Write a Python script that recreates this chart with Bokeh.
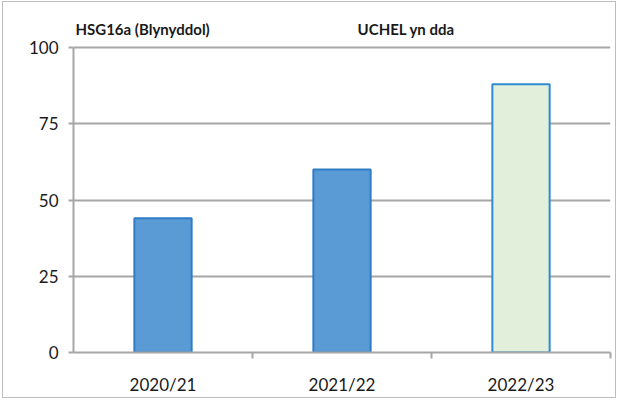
from bokeh.plotting import figure
from bokeh.models import Range1d, FixedTicker, Label, ColumnDataSource
from bokeh.embed import file_html
from bokeh.resources import INLINE

categories = ["2020/21", "2021/22", "2022/23"]
values = [44, 60, 88]
fill_colors = ["#5B9BD5", "#5B9BD5", "#E2EFDA"]
line_colors = ["#2E7DC6", "#2E7DC6", "#2E8BD0"]
y_ticks = [0, 25, 50, 75, 100]
title_left = "HSG16a (Blynyddol)"
title_right = "UCHEL yn dda"

FONT = "Lato"
n = len(categories)
xs = [i + 0.5 for i in range(n)]

p = figure(width=614, height=397, output_backend="svg", toolbar_location=None,
           x_range=Range1d(0, n), y_range=Range1d(0, 111.5),
           min_border_left=70, min_border_right=7, min_border_top=10, min_border_bottom=47)
p.styles = {"border": "1px solid #BDBDBD", "margin-left": "2px", "margin-top": "1px"}
p.outline_line_color = None
p.background_fill_color = "white"
p.border_fill_color = "white"

src = ColumnDataSource(dict(x=xs, top=values, fill=fill_colors, line=line_colors))
p.vbar(x="x", top="top", bottom=0, width=0.32, source=src,
       fill_color="fill", line_color="line", line_width=2)

# x axis
p.xaxis.ticker = FixedTicker(ticks=xs, minor_ticks=list(range(1, n + 1)))
p.xaxis.major_label_overrides = {x: c for x, c in zip(xs, categories)}
p.xaxis.major_tick_out = 0
p.xaxis.major_tick_in = 0
p.xaxis.minor_tick_out = 6
p.xaxis.minor_tick_in = 0
p.xaxis.minor_tick_line_color = "#A6A6A6"
p.xaxis.minor_tick_line_width = 2
p.xaxis.axis_line_color = "#A6A6A6"
p.xaxis.axis_line_width = 2
p.xaxis.major_label_standoff = 15
p.xaxis.major_label_text_font = FONT
p.xaxis.major_label_text_font_size = "17px"
p.xaxis.major_label_text_color = "#1a1a1a"

# y axis
p.yaxis.ticker = FixedTicker(ticks=y_ticks)
p.yaxis.bounds = (y_ticks[0], y_ticks[-1])
p.yaxis.major_tick_out = 5
p.yaxis.major_tick_in = 0
p.yaxis.minor_tick_line_color = None
p.yaxis.major_tick_line_color = "#A6A6A6"
p.yaxis.major_tick_line_width = 2
p.yaxis.axis_line_color = "#A6A6A6"
p.yaxis.axis_line_width = 2
p.yaxis.major_label_standoff = 10
p.yaxis.major_label_text_font = FONT
p.yaxis.major_label_text_font_size = "17px"
p.yaxis.major_label_text_color = "#1a1a1a"

p.xgrid.grid_line_color = None
p.ygrid.ticker = FixedTicker(ticks=y_ticks[1:])
p.ygrid.grid_line_color = "#A6A6A6"
p.ygrid.grid_line_width = 2

p.add_layout(Label(x=0.011, y=106, text=title_left,
                   text_font=FONT, text_font_style="bold",
                   text_font_size="15px", text_baseline="middle", text_color="#1a1a1a"))
p.add_layout(Label(x=1.587, y=106, text=title_right,
                   text_font=FONT, text_font_style="bold",
                   text_font_size="15px", text_baseline="middle", text_color="#1a1a1a"))

open("out.html", "w").write(file_html(p, INLINE))
